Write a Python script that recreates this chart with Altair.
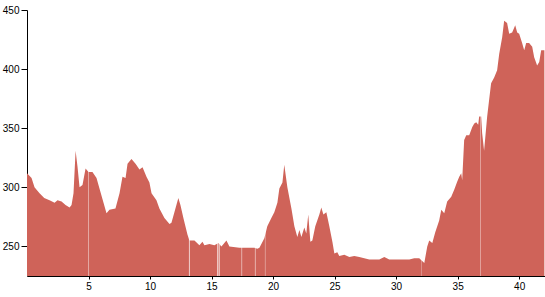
import altair as alt
import pandas as pd

km = [0.0, 0.37, 0.61, 1.02, 1.40, 1.83, 2.24, 2.48, 2.81, 3.13, 3.46, 3.62, 3.78, 3.95, 4.11,
      4.27, 4.51, 4.76, 5.00, 5.32, 5.65, 5.89, 6.22, 6.46, 6.70, 7.19, 7.52, 7.76, 8.01, 8.17,
      8.49, 8.82, 9.14, 9.39, 9.71, 9.95, 10.12, 10.52, 10.76, 11.17, 11.58, 11.74, 11.98, 12.30,
      12.47, 12.71, 13.04, 13.20, 13.61, 14.01, 14.26, 14.42, 14.83, 15.23, 15.56, 15.80, 16.21,
      16.45, 17.26, 18.07, 18.48, 18.72, 18.89, 19.29, 19.53, 19.86, 20.10, 20.35, 20.51, 20.76,
      20.91, 21.16, 21.49, 21.73, 21.97, 22.14, 22.30, 22.54, 22.70, 22.86, 23.03, 23.19, 23.43,
      23.76, 23.92, 24.09, 24.33, 24.57, 24.82, 24.98, 25.22, 25.38, 25.79, 26.20, 26.60, 27.01,
      27.41, 27.82, 28.63, 29.04, 29.44, 30.26, 31.07, 31.47, 31.88, 32.29, 32.53, 32.69, 32.94,
      33.18, 33.50, 33.67, 33.91, 34.15, 34.48, 34.72, 34.97, 35.13, 35.29, 35.37, 35.53, 35.70,
      35.94, 36.19, 36.35, 36.51, 36.67, 36.75, 36.91, 36.99, 37.15, 37.40, 37.56, 37.72, 37.97,
      38.21, 38.38, 38.62, 38.78, 39.02, 39.19, 39.43, 39.68, 39.84, 40.00, 40.24, 40.41, 40.57,
      40.81, 41.06, 41.22, 41.46, 41.63, 41.79, 42.05]

elev = [312, 308, 300, 295, 291, 289, 287, 289, 288, 285, 283, 285, 295, 331, 317,
        300, 302, 316, 313, 313, 308, 299, 287, 278, 281, 282, 295, 309, 308, 320,
        324, 320, 315, 317, 309, 304, 295, 289, 282, 274, 269, 270, 279, 291,
        285, 274, 260, 255, 255, 251, 254, 251, 252, 251, 253, 250, 255,
        250, 249, 249, 249, 248, 249, 257, 267, 274, 279, 287, 299, 304,
        319, 300, 282, 267, 258, 264, 258, 266, 261, 277, 254, 255, 267,
        277, 283, 277, 279, 267, 254, 244, 245, 242, 243, 241, 242, 241,
        240, 239, 239, 241, 239, 239, 239, 240, 240, 236, 250, 255, 253,
        262, 272, 281, 278, 288, 292, 298, 305, 309, 312, 306, 340, 344,
        344, 351, 354, 355, 353, 360, 360, 346, 331, 360, 374, 388, 393,
        399, 413, 427, 441, 439, 430, 431, 437, 431, 430, 422, 416, 422,
        422, 419, 410, 403, 406, 416, 416]

gap_km = [5.0, 13.2, 15.5, 15.62, 17.45, 18.56, 19.37, 32.06, 36.86]
gap_op = [0.45, 0.7, 0.8, 0.8, 0.5, 0.5, 0.35, 0.3, 0.4]

df = pd.DataFrame({"km": km, "elev": elev})
gaps = pd.DataFrame({"km": gap_km, "op": gap_op})

xs = alt.Scale(domain=[0, 42.1], nice=False, zero=False)
ys = alt.Scale(domain=[225, 450], nice=False, zero=False)

area = alt.Chart(df).mark_area(color="#cf6359", interpolate="linear").encode(
    x=alt.X("km:Q", scale=xs,
            axis=alt.Axis(title=None, values=[5, 10, 15, 20, 25, 30, 35, 40], grid=False,
                          tickSize=3, labelPadding=2, domainColor="#000", tickColor="#000",
                          labelColor="#000", labelFontSize=10, labelFont="Liberation Sans",
                          labelFlush=False)),
    y=alt.Y("elev:Q", scale=ys,
            axis=alt.Axis(title=None, values=[250, 300, 350, 400, 450], grid=False,
                          tickSize=6, labelPadding=2, domainColor="#000", tickColor="#000",
                          labelColor="#000", labelFontSize=10, labelFont="Liberation Sans",
                          labelFlush=False)),
    y2=alt.datum(225),
)

rules = alt.Chart(gaps).mark_rule(color="white", strokeWidth=1).encode(
    x=alt.X("km:Q", scale=xs),
    y=alt.datum(225),
    y2=alt.datum(450),
    opacity=alt.Opacity("op:Q", scale=None, legend=None),
)

chart = alt.layer(area, rules).properties(
    width=518, height=266,
    background="white",
    autosize=alt.AutoSizeParams(type="none"),
    padding={"left": 27, "top": 10, "right": 0, "bottom": 21},
).configure_view(stroke=None, strokeWidth=0)

chart.save("out.html", embed_options={"renderer": "svg", "actions": False})
